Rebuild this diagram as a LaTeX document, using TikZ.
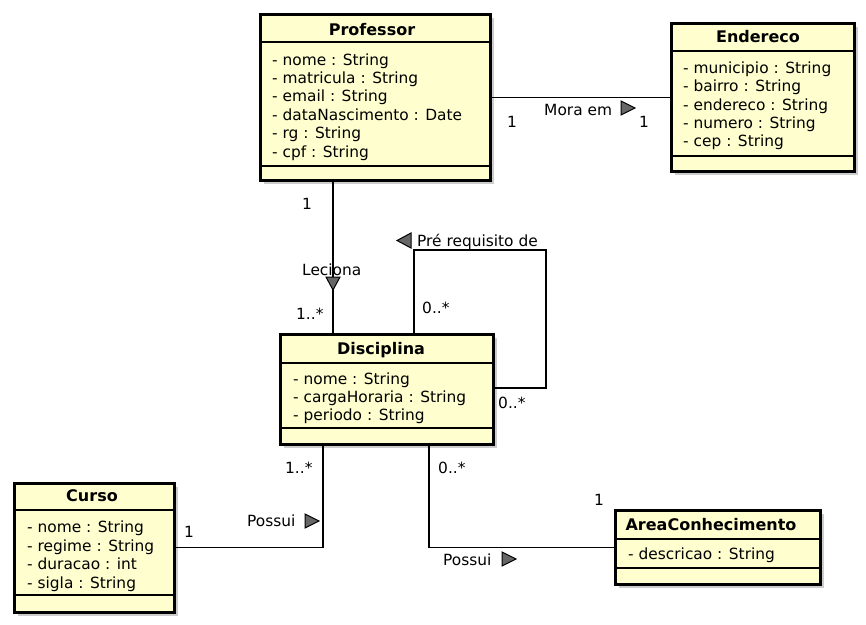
\documentclass[tikz,border=0pt]{standalone}
\usepackage{fontspec}
\setmainfont{DejaVu Sans}
\usetikzlibrary{shadows,calc}
\definecolor{cfill}{HTML}{FEFECE}
\begin{document}
\begin{tikzpicture}[x=1pt,y=-1pt,
  font=\fontsize{15.4}{18}\selectfont,
  cls/.style={draw, line width=2.5pt, fill=cfill, anchor=north west, inner sep=0,
    drop shadow={shadow xshift=4pt, shadow yshift=-4pt, fill=black!20, opacity=1}},
  sep/.style={line width=1.2pt},
  conn/.style={line width=1.2pt},
  tri/.style={draw=black, fill=black!60, line width=1pt, line join=miter},
  ttl/.style={anchor=base, inner sep=0, font=\fontsize{16}{18}\selectfont\bfseries},
  attr/.style={anchor=base west, inner sep=0},
  lbl/.style={anchor=base west, inner sep=0},
  lblc/.style={anchor=base, inner sep=0}]
\useasboundingbox (0,0) rectangle (866,624);

% classes
\node[cls, minimum width=230pt, minimum height=166pt] (prof) at (259,13) {};
\node[cls, minimum width=183pt, minimum height=148pt] (ende) at (670,22) {};
\node[cls, minimum width=213pt, minimum height=110pt] (disc) at (279,333) {};
\node[cls, minimum width=160pt, minimum height=129pt] (curso) at (13,482) {};
\node[cls, minimum width=205pt, minimum height=74pt] (area) at (614,509) {};

% separators
\draw[sep] (prof.west |- 0,42) -- (prof.east |- 0,42);
\draw[sep] (prof.west |- 0,166) -- (prof.east |- 0,166);
\draw[sep] (ende.west |- 0,51) -- (ende.east |- 0,51);
\draw[sep] (ende.west |- 0,156) -- (ende.east |- 0,156);
\draw[sep] (disc.west |- 0,363) -- (disc.east |- 0,363);
\draw[sep] (disc.west |- 0,428) -- (disc.east |- 0,428);
\draw[sep] (curso.west |- 0,510) -- (curso.east |- 0,510);
\draw[sep] (curso.west |- 0,595) -- (curso.east |- 0,595);
\draw[sep] (area.west |- 0,539) -- (area.east |- 0,539);
\draw[sep] (area.west |- 0,568) -- (area.east |- 0,568);

% titles
\node[ttl] (tprof) at (372,35) {Professor};
\node[ttl] (tende) at (758,42.3) {Endereco};
\node[ttl] (tdisc) at (381,354) {Disciplina};
\node[ttl] (tcurso) at (92,501.7) {Curso};
\node[ttl] (tarea) at (711,530.7) {AreaConhecimento};

% attributes
\foreach \t [count=\i from 0] in {- nome : String, - matricula : String, - email : String, - dataNascimento : Date, - rg : String, - cpf : String}
  \node[attr] (ap\i) at (272,65+18.4*\i) {\t};
\foreach \t [count=\i from 0] in {- municipio : String, - bairro : String, - endereco : String, - numero : String, - cep : String}
  \node[attr] (ae\i) at (683,73.3+18.35*\i) {\t};
\foreach \t [count=\i from 0] in {- nome : String, - cargaHoraria : String, - periodo : String}
  \node[attr] (ad\i) at (293,384+18.35*\i) {\t};
\foreach \t [count=\i from 0] in {- nome : String, - regime : String, - duracao : int, - sigla : String}
  \node[attr] (ac\i) at (27,532.7+18.5*\i) {\t};
\node[attr] (aa0) at (628,559.3) {- descricao : String};

% connectors
\coordinate (k1) at (333,0);
\coordinate (k2) at (414,0);
\coordinate (k3) at (546,250);
\coordinate (k4) at (0,388);
\coordinate (k5) at (323,0);
\coordinate (k6) at (429,0);
\draw[conn] (prof.east) -- (ende.west);
\draw[conn] (prof.south -| k1) -- (disc.north -| k1);
\draw[conn] (disc.north -| k2) |- (k3) |- (disc.east |- k4);
\draw[conn] (disc.south -| k5) |- (curso.east);
\draw[conn] (disc.south -| k6) |- (area.west);

% labels
\node[lblc] (m1) at (512,127) {1};
\node[lbl] (m2) at (544,115) {Mora em};
\node[lblc] (m3) at (644,127) {1};
\node[lblc] (l1) at (307,209) {1};
\node[lbl] (l2) at (302,275) {Leciona};
\node[lbl] (l3) at (296,319) {1..*};
\node[lbl] (p1) at (417,246) {Pré requisito de};
\node[lbl] (p2) at (422,313) {0..*};
\node[lbl] (p3) at (498,408) {0..*};
\node[lbl] (c1) at (285,473) {1..*};
\node[lbl] (c2) at (247,526) {Possui};
\node[lblc] (c3) at (189,537) {1};
\node[lbl] (a1) at (438,473) {0..*};
\node[lblc] (a2) at (599,505) {1};
\node[lbl] (a3) at (443,565) {Possui};

% direction triangles
\draw[tri] (621,101) -- (635,108) -- (621,115) -- cycle;
\draw[tri] (326,277) -- (340,277) -- (333,290) -- cycle;
\draw[tri] (411,233) -- (397,240.5) -- (411,248) -- cycle;
\draw[tri] (305,514) -- (319,521) -- (305,528) -- cycle;
\draw[tri] (502,552) -- (516,559) -- (502,566) -- cycle;
\end{tikzpicture}
\end{document}
